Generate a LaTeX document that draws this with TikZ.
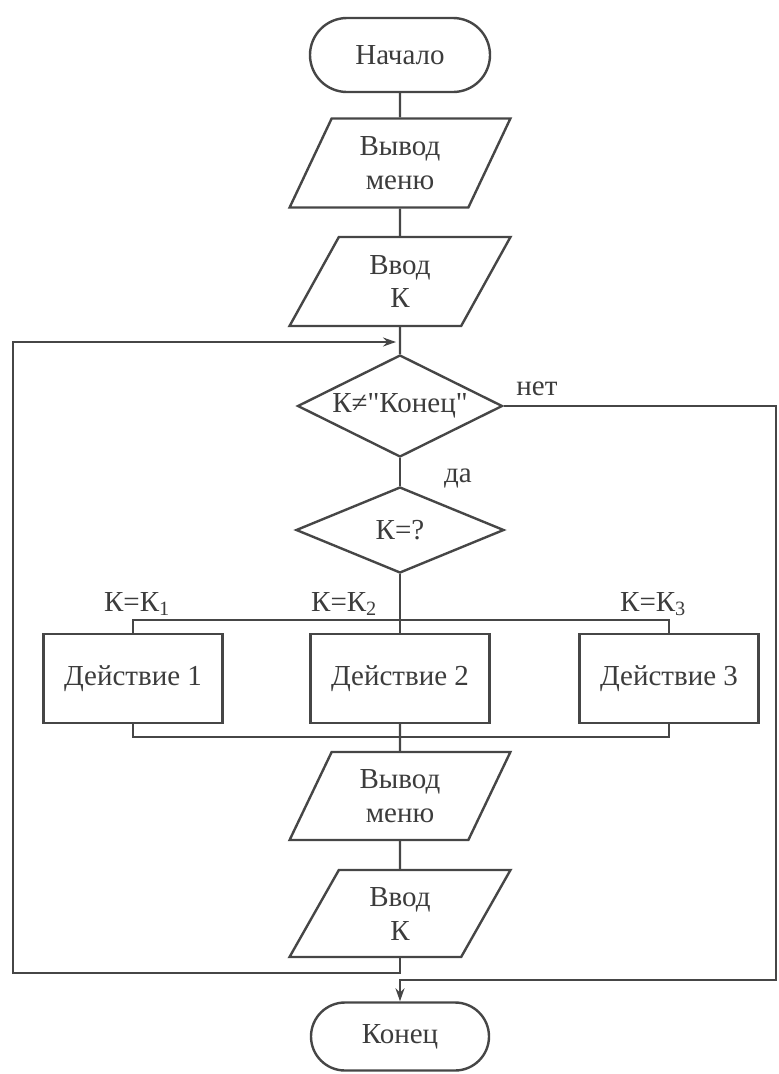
\documentclass[tikz,border=0pt]{standalone}
\usepackage{fontspec}
\setmainfont{LiberationSerif-Regular.ttf}
\newfontfamily\rusfont{LiberationSerif-Regular.ttf}
\usetikzlibrary{shapes.geometric,arrows.meta}
\definecolor{ink}{RGB}{70,70,70}
\definecolor{txt}{RGB}{60,60,60}
\begin{document}
\begin{tikzpicture}[x=1pt,y=-1pt,
  every node/.style={text=txt,font=\rusfont\fontsize{29}{34}\selectfont},
  line/.style={draw=ink,line width=2.4pt},
  term/.style={draw=ink,line width=2.4pt,rectangle,minimum width=180pt,inner sep=0pt},
  io/.style={draw=ink,line width=2.4pt,trapezium,trapezium left angle=65,trapezium right angle=115,trapezium stretches=true,minimum width=221pt,minimum height=89pt,inner sep=0pt,align=center},
  dec/.style={draw=ink,line width=2.4pt,diamond,inner sep=0pt,aspect=2},
  proc/.style={draw=ink,line width=2.4pt,rectangle,minimum width=179pt,minimum height=89pt,inner sep=0pt},
  lab/.style={anchor=base,inner sep=0pt},
  arr/.style={-{Stealth[length=13pt,width=9pt]}}
]
\useasboundingbox (0,0) rectangle (779,1074);
% nodes
\node[term,minimum height=74pt,rounded corners=37pt] (start) at (400,55) {Начало};
\node[io] (out1) at (400,163) {Вывод\\меню};
\node[io] (in1) at (400,281.5) {Ввод\\К};
\node[dec,minimum width=205pt,minimum height=102pt] (d1) at (400,406) {К≠\char34 Конец\char34};
\node[dec,minimum width=208pt,minimum height=86pt] (d2) at (400,530) {К=?};
\node[proc] (a1) at (133,678.5) {Действие 1};
\node[proc] (a2) at (400,678.5) {Действие 2};
\node[proc] (a3) at (669,678.5) {Действие 3};
\node[io,minimum height=88pt] (out2) at (400,796) {Вывод\\меню};
\node[io,minimum height=87pt] (in2) at (400,913.5) {Ввод\\К};
\node[term,minimum height=68pt,rounded corners=34pt,minimum width=178pt] (end) at (400,1036.5) {Конец};
% labels
\node[lab] (no) at (537,395) {нет};
\node[lab] (yes) at (458,482) {да};
\node[lab] (k1) at (137,611) {К=К\textsubscript{1}};
\node[lab] (k2) at (344,611) {К=К\textsubscript{2}};
\node[lab] (k3) at (653,611) {К=К\textsubscript{3}};
% helper coordinates
\coordinate (jn) at (400,342);
\coordinate (lt) at (13,342);
\coordinate (lb) at (13,973);
\coordinate (rt) at (776,406);
\coordinate (rb) at (776,980);
\coordinate (ej) at (400,980);
\coordinate (bus) at (400,620);
\coordinate (bbus) at (400,737);
% connectors
\draw[line] (start.south) -- (out1.north);
\draw[line] (out1.south) -- (in1.north);
\draw[line] (in1.south) -- (d1.north);
\draw[line] (d1.south) -- (d2.north);
\draw[line] (d2.south) -- (bus);
\draw[line] (a1.north) -- (a1.north |- bus) -- (a3.north |- bus) -- (a3.north);
\draw[line] (bus) -- (a2.north);
\draw[line] (a1.south) -- (a1.south |- bbus) -- (a3.south |- bbus) -- (a3.south);
\draw[line] (a2.south) -- (out2.north);
\draw[line] (out2.south) -- (in2.north);
\draw[line,arr,shorten >=4pt] (in2.south) |- (lb) -- (lt) -- (jn);
\draw[line,arr] (d1.east) -- (rt) -- (rb) -- (ej) -- (end.north);
\end{tikzpicture}
\end{document}
